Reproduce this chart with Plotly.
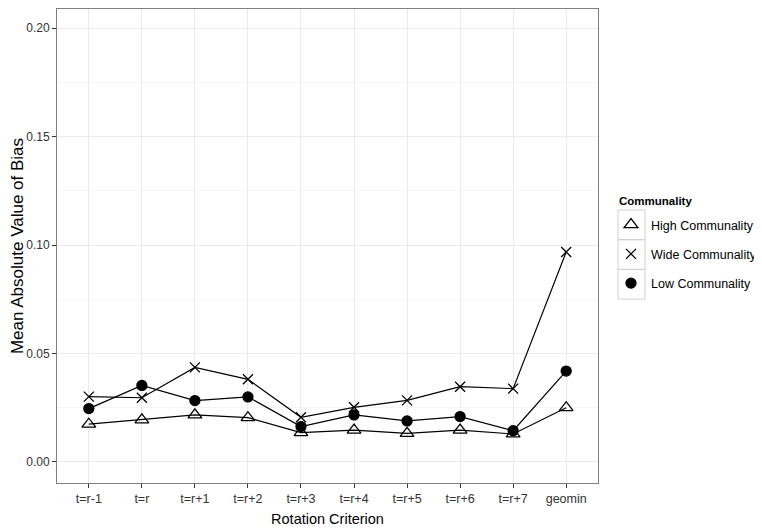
import plotly.graph_objects as go

criteria = ["t=r-1", "t=r", "t=r+1", "t=r+2", "t=r+3", "t=r+4", "t=r+5", "t=r+6", "t=r+7", "geomin"]
high_comm = [0.0174, 0.0194, 0.0217, 0.0204, 0.0135, 0.0147, 0.0132, 0.0147, 0.0129, 0.0250]
wide_comm = [0.0301, 0.0296, 0.0436, 0.0381, 0.0206, 0.0252, 0.0284, 0.0347, 0.0338, 0.0968]
low_comm = [0.0246, 0.0353, 0.0283, 0.0300, 0.0163, 0.0217, 0.0189, 0.0209, 0.0144, 0.0419]

series = [
    ("High Communality", high_comm, "triangle-up-open", 12),
    ("Wide Communality", wide_comm, "x-thin-open", 10),
    ("Low Communality", low_comm, "circle", 10),
]

fig = go.Figure()
for i, (name, vals, sym, size) in enumerate(series):
    mk = dict(symbol=sym, size=size, color="black", line=dict(color="black", width=1.3))
    fig.add_trace(go.Scatter(
        x=list(range(len(criteria))), y=vals, name=name, mode="lines+markers",
        line=dict(color="black", width=1.2), marker=mk,
        showlegend=False, legendgroup=f"g{i}",
    ))
    # legend entry: marker only (as in the reference key)
    fig.add_trace(go.Scatter(
        x=[None], y=[None], name=name, mode="markers", marker=mk,
        showlegend=True, legendgroup=f"g{i}",
    ))

# page body adds an 8px offset; targets below are in window pixels
OFF = 8
W, H = 762, 531
L, R, T, B = 49, 172, 1, 56
pw, ph = W - L - R, H - T - B

def px(x):
    return (x - OFF - L) / pw

def py(y):
    return (H - B - (y - OFF)) / ph

# legend key boxes
shapes = []
for k in range(3):
    y0 = 210 + k * 29.7
    shapes.append(dict(type="rect", xref="paper", yref="paper",
                       x0=px(618), x1=px(645), y0=py(y0 + 29.7), y1=py(y0),
                       line=dict(color="#d0d0d0", width=1), fillcolor="rgba(0,0,0,0)"))

fig.update_layout(
    width=W, height=H,
    margin=dict(l=L, r=R, t=T, b=B, autoexpand=False),
    paper_bgcolor="white", plot_bgcolor="white",
    font=dict(family="Liberation Sans, Arial, sans-serif", color="black"),
    showlegend=True,
    legend=dict(
        x=px(611), y=py(210), xanchor="left", yanchor="top",
        font=dict(size=12.5), tracegroupgap=10, bgcolor="rgba(0,0,0,0)",
        itemwidth=30,
    ),
    annotations=[dict(text="<b>Communality</b>", xref="paper", yref="paper",
                      x=px(617), y=py(201), xanchor="left", yanchor="middle",
                      showarrow=False, font=dict(size=11.5))],
    shapes=shapes,
    xaxis=dict(
        range=[-0.6, 9.6], tickmode="array", tickvals=list(range(len(criteria))),
        ticktext=criteria, showgrid=True, gridcolor="#ebebeb", gridwidth=1,
        zeroline=False, showline=True, linecolor="#7f7f7f", linewidth=1, mirror=True,
        ticks="outside", ticklen=4, tickcolor="#333333", automargin=False,
        tickfont=dict(size=12.5, color="#333333"),
        title=dict(text="Rotation Criterion", font=dict(size=14.5), standoff=8),
    ),
    yaxis=dict(
        range=[-0.0097, 0.2088], tickmode="array",
        tickvals=[0, 0.05, 0.10, 0.15, 0.20],
        ticktext=["0.00", "0.05", "0.10", "0.15", "0.20"],
        showgrid=True, gridcolor="#ebebeb", gridwidth=1,
        minor=dict(tickvals=[0.025, 0.075, 0.125, 0.175], showgrid=True,
                   gridcolor="#f5f5f5", gridwidth=1),
        zeroline=False, showline=True, linecolor="#7f7f7f", linewidth=1, mirror=True,
        ticks="outside", ticklen=4, tickcolor="#333333", automargin=False,
        tickfont=dict(size=12, color="#333333"),
        title=dict(text="Mean Absolute Value of Bias", font=dict(size=17), standoff=4),
    ),
)

fig.write_html("out.html")
